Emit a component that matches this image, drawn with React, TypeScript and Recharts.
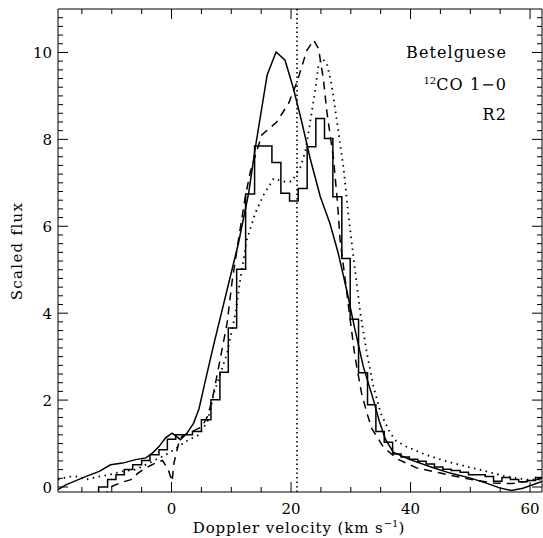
import { LineChart, Line, XAxis, YAxis, ReferenceLine } from "recharts";

// velocity (km/s) vs scaled flux
const SOLID_X = [-19.0, -17.7, -16.3, -14.4, -12.1, -10.2, -8.2, -6.0, -4.3, -3.2, -2.1, -1.0, 0.1, 1.5, 2.6, 3.7, 4.6, 5.5, 7.1, 9.3, 11.2, 12.9, 14.0, 16.0, 17.5, 19.0, 20.4, 21.8, 23.2, 24.9, 26.5, 27.9, 29.3, 30.7, 32.1, 33.8, 34.8, 35.8, 37.1, 39.9, 43.2, 46.6, 49.9, 52.7, 54.9, 56.9, 58.8, 62.0];
const SOLID_Y = [-0.06, 0.05, 0.13, 0.24, 0.36, 0.51, 0.55, 0.63, 0.67, 0.78, 0.93, 1.13, 1.24, 1.09, 1.24, 1.47, 1.8, 2.35, 3.3, 4.54, 5.61, 6.76, 7.79, 9.48, 10.01, 9.82, 9.17, 8.4, 7.56, 6.68, 6.07, 5.38, 4.54, 3.62, 2.77, 2.0, 1.5, 1.1, 0.8, 0.63, 0.47, 0.32, 0.21, 0.09, -0.02, -0.08, -0.03, 0.13];

const DASH_X = [-11.5, -10.2, -8.5, -6.8, -5.6, -4.3, -2.7, -1.5, -0.55, 0.1, 0.4, 1.2, 1.7, 3.5, 5.1, 6.0, 6.8, 7.9, 9.3, 10.1, 11.2, 12.35, 13.2, 15.1, 17.6, 19.6, 21.0, 22.65, 23.8, 24.6, 25.4, 26.0, 27.1, 27.8, 28.2, 29.0, 29.9, 30.7, 31.8, 32.7, 33.5, 35.4, 37.7, 41.0, 45.0, 50.2, 53.8, 57.0, 60.5, 62.0];
const DASH_Y = [-0.25, 0.0, 0.1, 0.17, 0.32, 0.44, 0.55, 0.61, 0.4, 0.13, 0.55, 1.01, 1.16, 1.28, 1.39, 1.62, 2.0, 2.77, 3.77, 4.69, 5.69, 6.68, 7.26, 8.1, 8.4, 8.83, 9.32, 10.05, 10.28, 10.09, 9.4, 8.63, 7.56, 6.5, 5.69, 4.84, 3.85, 3.0, 2.16, 1.7, 1.35, 0.93, 0.65, 0.44, 0.32, 0.17, 0.09, 0.08, 0.15, 0.2];

const DOT_X = [-19.0, -17.2, -15.5, -14.4, -12.1, -10.5, -8.2, -6.0, -3.8, -1.0, 0.4, 2.9, 4.6, 6.0, 7.1, 9.3, 10.7, 11.5, 12.6, 14.0, 15.4, 17.1, 18.7, 20.1, 21.5, 22.4, 23.2, 24.0, 24.6, 25.2, 26.0, 26.8, 27.7, 28.8, 29.6, 30.7, 31.6, 32.7, 33.8, 35.0, 36.6, 37.6, 39.3, 42.6, 46.0, 49.4, 52.7, 56.0, 59.4, 62.0];
const DOT_Y = [0.17, 0.24, 0.24, 0.17, 0.24, 0.28, 0.36, 0.4, 0.55, 0.74, 0.86, 1.09, 1.2, 1.5, 2.16, 3.08, 4.0, 4.77, 5.69, 6.3, 6.72, 7.1, 7.03, 7.03, 7.33, 7.72, 8.4, 9.09, 9.71, 9.86, 9.75, 9.25, 8.4, 7.33, 6.26, 5.0, 4.0, 3.08, 2.31, 1.7, 1.24, 1.06, 0.93, 0.74, 0.59, 0.47, 0.36, 0.24, 0.17, 0.17];

// observed spectrum, channel edges and channel values
const HIST_EDGES = [-12.2, -10.7, -9.3, -7.9, -6.5, -5.0, -3.6, -2.1, -0.7, 0.7, 2.1, 3.5, 5.0, 6.6, 8.1, 9.5, 10.9, 12.4, 13.9, 15.3, 16.8, 18.3, 19.75, 21.2, 22.7, 24.15, 25.6, 27.0, 28.5, 29.9, 31.3, 32.8, 34.2, 35.6, 37.0, 38.4, 39.8, 41.2, 42.6, 44.0, 45.4, 46.8, 48.3, 49.7, 51.1, 52.5, 53.9, 55.3, 56.7, 58.1, 59.5, 60.9, 62.3];
const HIST_VALUES = [0.0, 0.17, 0.28, 0.4, 0.51, 0.61, 0.74, 0.86, 1.1, 1.2, 1.2, 1.28, 1.55, 2.01, 2.64, 3.66, 5.01, 6.74, 7.85, 7.85, 7.47, 6.76, 6.58, 6.87, 7.83, 8.48, 8.02, 6.68, 5.26, 3.86, 2.63, 1.89, 1.28, 1.03, 0.76, 0.69, 0.64, 0.59, 0.53, 0.46, 0.41, 0.38, 0.34, 0.28, 0.28, 0.24, 0.13, 0.22, 0.17, 0.12, 0.15, 0.22];

const V_SYS = 21;
const X_LABELS = [0, 20, 40, 60];
const X_TICKS = [-15, -10, -5, 0, 5, 10, 15, 20, 25, 30, 35, 40, 45, 50, 55, 60];
const Y_LABELS = [0, 2, 4, 6, 8, 10];
const Y_TICKS = Array.from({ length: 55 }, (_, i) => +(i * 0.2).toFixed(1));

const X_DOMAIN = [-19, 62];
const Y_DOMAIN = [-0.115, 11];

const W = 543;
const H = 538;
const TOP = 9;
const LEFT = 58;
const BOTTOM = 492;
const RIGHT = 542;
const FONT = "DejaVu Serif";
const INK = "#000";

const zip = (xs: number[], ys: number[]) => xs.map((x, i) => ({ x, y: ys[i] }));

const solidData = zip(SOLID_X, SOLID_Y);
const dashData = zip(DASH_X, DASH_Y);
const dotData = zip(DOT_X, DOT_Y);
const histData = [
  { x: HIST_EDGES[0], y: -0.3 },
  ...HIST_VALUES.map((v, i) => ({ x: HIST_EDGES[i], y: v })),
  { x: HIST_EDGES[HIST_EDGES.length - 1], y: HIST_VALUES[HIST_VALUES.length - 1] },
];

function XTick(props: any) {
  const { x, payload } = props;
  const v = payload.value;
  const major = X_LABELS.includes(v);
  const len = major ? 10 : 5;
  return (
    <g>
      <line x1={x} x2={x} y1={BOTTOM} y2={BOTTOM - len} stroke={INK} />
      <line x1={x} x2={x} y1={TOP} y2={TOP + len} stroke={INK} />
      {major && (
        <text x={x} y={514} textAnchor="middle" fontFamily={FONT} fontSize={15} fill={INK}>
          {v}
        </text>
      )}
    </g>
  );
}

function YTick(props: any) {
  const { y, payload } = props;
  const v = payload.value;
  const major = Y_LABELS.includes(v);
  const len = major ? 10 : 5;
  return (
    <g>
      <line x1={LEFT} x2={LEFT + len} y1={y} y2={y} stroke={INK} />
      <line x1={RIGHT} x2={RIGHT - len} y1={y} y2={y} stroke={INK} />
      {major && (
        <text x={LEFT - 6} y={y + 5.5} textAnchor="end" fontFamily={FONT} fontSize={15} fill={INK}>
          {v}
        </text>
      )}
    </g>
  );
}

export default function App() {
  return (
    <div style={{ position: "absolute", left: 0, top: 0, width: W, height: H, background: "#fff" }}>
      <LineChart width={W} height={H} margin={{ top: TOP, right: W - RIGHT, bottom: 0, left: 0 }}>
        <XAxis
          dataKey="x"
          type="number"
          domain={X_DOMAIN}
          ticks={X_TICKS}
          interval={0}
          allowDataOverflow
          height={H - BOTTOM}
          tickLine={false}
          tick={<XTick />}
          axisLine={{ stroke: INK }}
        />
        <YAxis
          type="number"
          domain={Y_DOMAIN}
          ticks={Y_TICKS}
          interval={0}
          allowDataOverflow
          width={LEFT}
          tickLine={false}
          tick={<YTick />}
          axisLine={{ stroke: INK }}
        />
        <ReferenceLine y={11} stroke={INK} />
        <ReferenceLine x={62} stroke={INK} />
        <ReferenceLine x={V_SYS} stroke={INK} strokeWidth={1.6} strokeDasharray="1.5 3" />
        <Line data={histData} dataKey="y" type="stepAfter" stroke={INK} strokeWidth={1.5} dot={false} isAnimationActive={false} />
        <Line data={solidData} dataKey="y" type="linear" stroke={INK} strokeWidth={1.5} dot={false} isAnimationActive={false} />
        <Line data={dashData} dataKey="y" type="linear" stroke={INK} strokeWidth={1.5} strokeDasharray="8 6" dot={false} isAnimationActive={false} />
        <Line data={dotData} dataKey="y" type="linear" stroke={INK} strokeWidth={1.8} strokeDasharray="1.5 4.5" dot={false} isAnimationActive={false} />
      </LineChart>
      <svg width={W} height={H} style={{ position: "absolute", left: 0, top: 0, pointerEvents: "none" }}>
        <text transform="translate(22 251) rotate(-90)" textAnchor="middle" fontFamily={FONT} fontSize={15} letterSpacing={1.3} fill={INK}>
          Scaled flux
        </text>
        <text x={299} y={533} textAnchor="middle" fontFamily={FONT} fontSize={15} letterSpacing={0.9} fill={INK}>
          Doppler velocity (km s
          <tspan dy={-6} fontSize={10} letterSpacing={0}>−1</tspan>
          <tspan dy={6}>)</tspan>
        </text>
        <text x={507} y={58} textAnchor="end" fontFamily={FONT} fontSize={16} letterSpacing={1.1} fill={INK}>
          Betelguese
        </text>
        <text x={507} y={90} textAnchor="end" fontFamily={FONT} fontSize={16} letterSpacing={1.1} fill={INK}>
          <tspan dy={-6} fontSize={10} letterSpacing={0}>12</tspan>
          <tspan dy={6}>CO 1−0</tspan>
        </text>
        <text x={507} y={120} textAnchor="end" fontFamily={FONT} fontSize={16} letterSpacing={1.1} fill={INK}>
          R2
        </text>
      </svg>
    </div>
  );
}
